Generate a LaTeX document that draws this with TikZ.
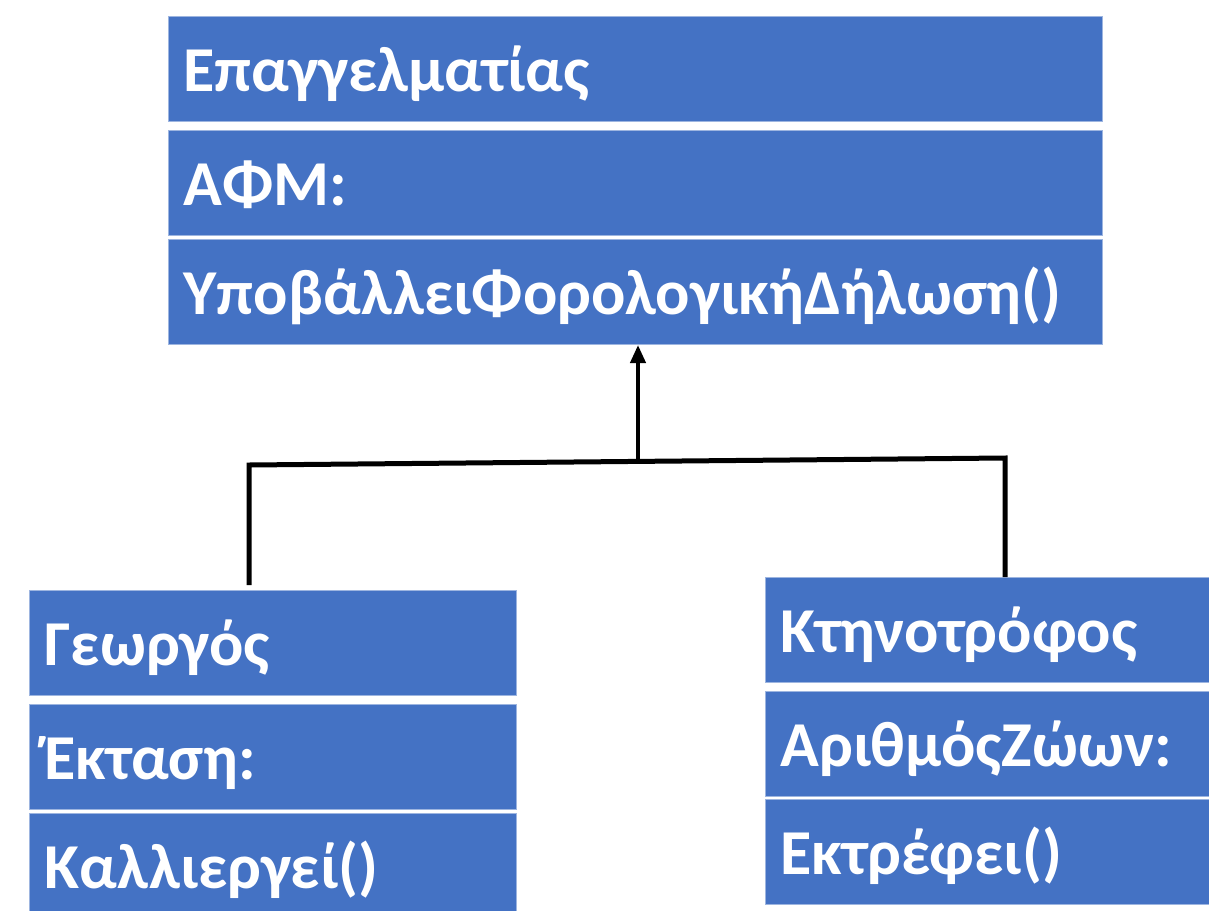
\documentclass[tikz,border=0pt]{standalone}
\usepackage{fontspec}
\setmainfont{Carlito}
\usetikzlibrary{arrows.meta,positioning}
\definecolor{classblue}{HTML}{4472C4}
\definecolor{classedge}{HTML}{9DB5E0}

\begin{document}
\begin{tikzpicture}[x=1pt, y=-1pt,
        classrow/.style={draw=classedge, line width=1pt, fill=classblue, text=white,
            font=\fontsize{64}{72}\selectfont\bfseries, inner xsep=15pt, inner ysep=0pt,
            text height=75pt, text depth=30pt, align=left},
        link/.style={black, line width=5pt}]
        \useasboundingbox (0,0) rectangle (1209,910);

        \node[classrow, anchor=north west, text width=904pt] (epag) at (168,16) {Επαγγελματίας};
        \node[classrow, text width=904pt, below=8pt of epag] (afm) {ΑΦΜ:};
        \node[classrow, text width=904pt, below=3pt of afm] (ypob) {ΥποβάλλειΦορολογικήΔήλωση()};

        \node[classrow, anchor=north west, text width=457pt] (geo) at (29,590) {Γεωργός};
        \node[classrow, text width=457pt, below=8pt of geo] (ekt) {Έκταση:};
        \node[classrow, text width=457pt, below=3pt of ekt] (kal) {Καλλιεργεί()};

        \node[classrow, anchor=north west, text width=414pt] (ktin) at (765,577) {Κτηνοτρόφος};
        \node[classrow, text width=414pt, below=8pt of ktin] (zoa) {ΑριθμόςΖώων:};
        \node[classrow, text width=414pt, below=2pt of zoa] (ektr) {Εκτρέφει()};

        \coordinate (jl) at (249,465);
        \coordinate (jr) at (1005,458);
        \coordinate (jm) at (638,461.5);
        \draw [link] ([yshift=5pt]geo.north -| jl) -- (jl) -- (jr) -- (ktin.north -| jr);
        \draw [link, line width=4pt, -{Triangle[length=18pt,width=15pt]}] (jm) -- (ypob.south -| jm);
\end{tikzpicture}
\end{document}
